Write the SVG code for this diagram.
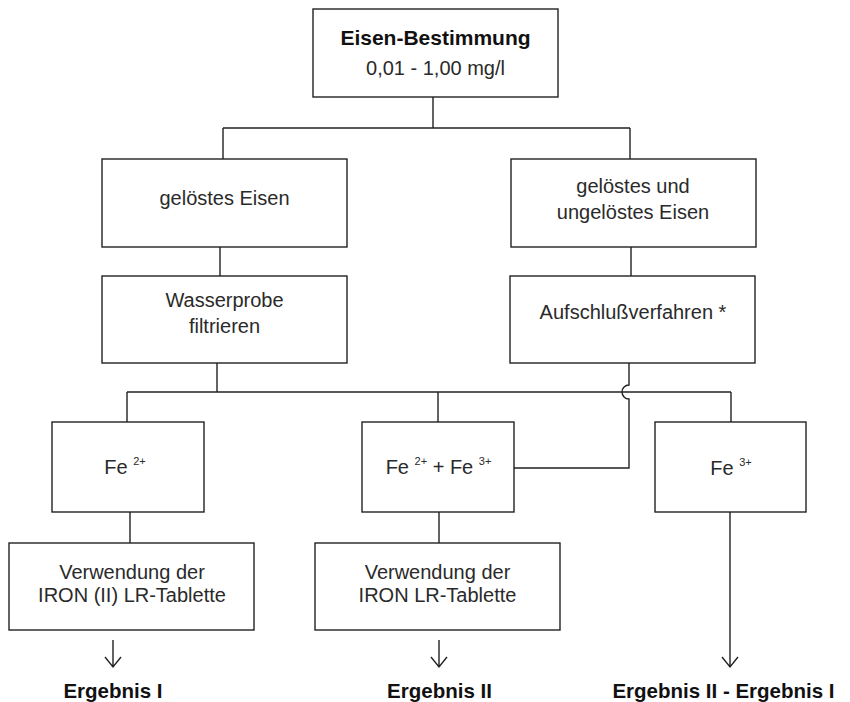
<svg xmlns="http://www.w3.org/2000/svg" width="850" height="702" viewBox="0 0 850 702">
<style>
.box{fill:#fff;stroke:#222;stroke-width:1.4}
.ln{fill:none;stroke:#222;stroke-width:1.4}
.t{font-family:"Liberation Sans",Arial,sans-serif;font-size:20px;fill:#2a2a2a;text-anchor:middle}
.b{font-family:"Liberation Sans",Arial,sans-serif;font-weight:bold;fill:#111;text-anchor:middle}
.sup{font-size:11px}
</style>
<rect width="850" height="702" fill="#fff"/>
<g id="connectors">
<path class="ln" d="M433,97V128M223,128H630M223,128V159M630,128V159"/>
<path class="ln" d="M220,247V276M631,247V276"/>
<path class="ln" d="M217,363V392M127,392H731M127,392V422M438,392V422M731,392V422"/>
<path class="ln" d="M629,363V385A7,7 0 0 0 629,399V468H514"/>
<path class="ln" d="M130,512V543M439,512V543"/>
<path class="ln" d="M113,640V667M105,657L113,667L121,657"/>
<path class="ln" d="M439,640V667M431,657L439,667L447,657"/>
<path class="ln" d="M730,512V667M722,657L730,667L738,657"/>
</g>
<g id="n-top">
<rect class="box" x="313" y="9" width="245" height="88"/>
<text class="b" x="435.5" y="45" font-size="21">Eisen-Bestimmung</text>
<text class="t" x="435.5" y="75" font-size="21">0,01 - 1,00 mg/l</text>
</g>
<g id="n-geloest">
<rect class="box" x="102" y="159" width="245" height="88"/>
<text class="t" x="224.5" y="205">gelöstes Eisen</text>
</g>
<g id="n-ungeloest">
<rect class="box" x="511" y="159" width="245" height="88"/>
<text class="t" x="633" y="193">gelöstes und</text>
<text class="t" x="633" y="219">ungelöstes Eisen</text>
</g>
<g id="n-filtrieren">
<rect class="box" x="102" y="276" width="245" height="87"/>
<text class="t" x="224.5" y="307">Wasserprobe</text>
<text class="t" x="224.5" y="333">filtrieren</text>
</g>
<g id="n-aufschluss">
<rect class="box" x="510" y="276" width="245" height="87"/>
<text class="t" x="633" y="319">Aufschlußverfahren *</text>
</g>
<g id="n-fe2">
<rect class="box" x="52" y="422" width="152" height="90"/>
<text class="t" x="125" y="474">Fe <tspan class="sup" dy="-9">2+</tspan></text>
</g>
<g id="n-fe23">
<rect class="box" x="362" y="422" width="152" height="90"/>
<text class="t" x="438.5" y="474">Fe <tspan class="sup" dy="-9">2+</tspan><tspan dy="9"> + Fe </tspan><tspan class="sup" dy="-9">3+</tspan></text>
</g>
<g id="n-fe3">
<rect class="box" x="655" y="422" width="151" height="90"/>
<text class="t" x="731" y="475">Fe <tspan class="sup" dy="-9">3+</tspan></text>
</g>
<g id="n-tab1">
<rect class="box" x="9" y="543" width="245" height="87"/>
<text class="t" x="132" y="579">Verwendung der</text>
<text class="t" x="132" y="602">IRON (II) LR-Tablette</text>
</g>
<g id="n-tab2">
<rect class="box" x="315" y="543" width="245" height="87"/>
<text class="t" x="437.5" y="579">Verwendung der</text>
<text class="t" x="437.5" y="602">IRON LR-Tablette</text>
</g>
<g id="n-erg1"><text class="b" x="113" y="698" font-size="20.5">Ergebnis I</text></g>
<g id="n-erg2"><text class="b" x="439.5" y="698" font-size="20.5">Ergebnis II</text></g>
<g id="n-erg3"><text class="b" x="723.5" y="698" font-size="20.5">Ergebnis II - Ergebnis I</text></g>
</svg>
